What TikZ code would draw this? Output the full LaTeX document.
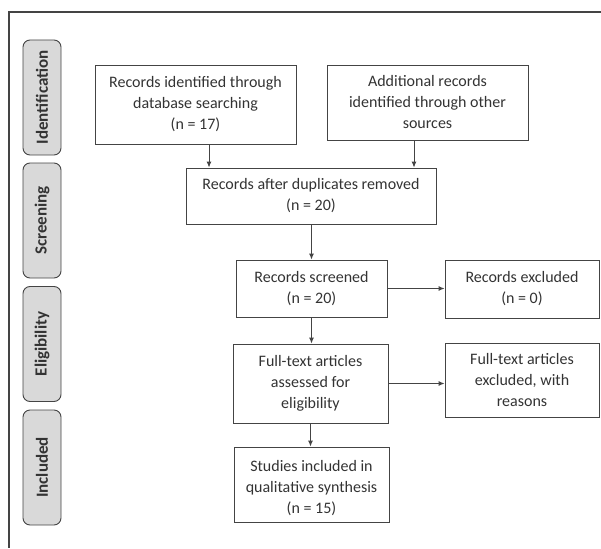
\documentclass[tikz,border=0pt]{standalone}
\usepackage{fontspec}
\setmainfont{Carlito}
\usetikzlibrary{arrows.meta}
\definecolor{txt}{HTML}{333333}
\definecolor{ln}{HTML}{444444}
\definecolor{lab}{HTML}{D9D9D9}
\begin{document}
\begin{tikzpicture}[x=1pt,y=-1pt,
  box/.style={draw=ln, line width=0.9pt, rectangle, inner sep=0pt, align=center, text=txt,
    font=\fontsize{16}{21}\selectfont},
  sidelab/.style={draw=ln, line width=0.9pt, fill=lab, rounded corners=7pt, rotate=90,
    minimum width=115pt, minimum height=38pt, inner sep=0pt, text=txt,
    font=\fontsize{17}{19}\selectfont\bfseries},
  arr/.style={draw=ln, line width=0.9pt, -{Latex[length=6pt,width=5pt]}}]
\useasboundingbox (0,0) rectangle (601,548);
\draw[ln, line width=1.2pt] (601,12) -- (9,12) -- (9,548);
% side labels
\node[sidelab] (sid) at (42,97.5) {Identification};
\node[sidelab] (ssc) at (42,220.5) {Screening};
\node[sidelab] (sel) at (42,344) {Eligibility};
\node[sidelab] (sin) at (42,467.5) {Included};
% boxes
\node[box, minimum width=201pt, minimum height=79pt] (b1) at (195.5,104.5)
  {Records identified through\\database searching\\(n = 17)};
\node[box, minimum width=201pt, minimum height=75pt] (b2) at (427.5,102.5)
  {Additional records\\identified through other\\sources};
\node[box, minimum width=250pt, minimum height=56pt] (b3) at (311,196)
  {Records after duplicates removed\\(n = 20)};
\node[box, minimum width=151pt, minimum height=57pt] (b4) at (311.5,288.5)
  {Records screened\\(n = 20)};
\node[box, minimum width=154pt, minimum height=58pt] (b5) at (522,289)
  {Records excluded\\(n = 0)};
\node[box, minimum width=155pt, minimum height=79pt] (b6) at (310.5,383.5)
  {Full-text articles\\assessed for\\eligibility};
\node[box, minimum width=154pt, minimum height=74pt] (b7) at (522,380)
  {Full-text articles\\excluded, with\\reasons};
\node[box, minimum width=155pt, minimum height=75pt] (b8) at (311.5,484.5)
  {\\[-2pt]Studies included in\\qualitative synthesis\\(n = 15)};
% arrows
\draw[arr] ([xshift=13.5pt]b1.south) -- ([xshift=13.5pt]b1.south |- b3.north);
\draw[arr] ([xshift=-13.5pt]b2.south) -- ([xshift=-13.5pt]b2.south |- b3.north);
\draw[arr] (b3.south -| b4.north) -- (b4.north);
\draw[arr] (b4.east) -- (b4.east -| b5.west);
\draw[arr] (b4.south) -- (b4.south |- b6.north);
\draw[arr] (b6.east) -- (b6.east -| b7.west);
\draw[arr] (b6.south) -- (b6.south |- b8.north);
\end{tikzpicture}
\end{document}
